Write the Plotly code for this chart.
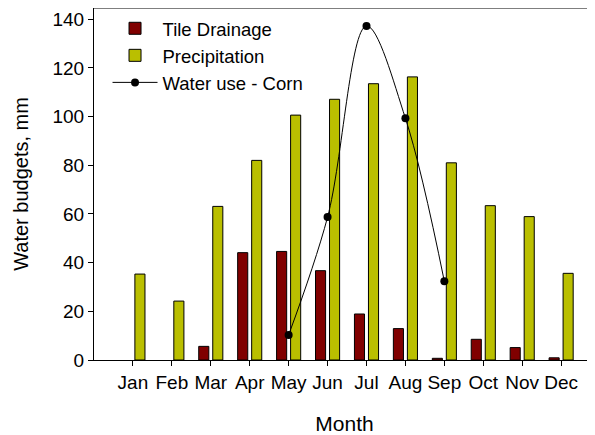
import plotly.graph_objects as go

months = ["Jan", "Feb", "Mar", "Apr", "May", "Jun", "Jul", "Aug", "Sep", "Oct", "Nov", "Dec"]
month_pos = [1, 2, 3, 4, 5, 6, 7, 8, 9, 10, 11, 12]
tile_drainage = [None, None, 5.6, 44.1, 44.6, 36.7, 18.9, 12.9, 0.7, 8.5, 5.1, 0.9]
precipitation = [35.3, 24.2, 63.1, 82.0, 100.6, 107.1, 113.5, 116.3, 81.0, 63.4, 58.9, 35.6]
water_pos = [5, 6, 7, 8, 9]
water_use = [10.3, 58.7, 137.2, 99.3, 32.3]
y_ticks = [0, 20, 40, 60, 80, 100, 120, 140]

fig = go.Figure()
fig.add_trace(go.Bar(x=month_pos, y=tile_drainage, name="Tile Drainage",
                     marker=dict(color="#800000", line=dict(color="black", width=1))))
fig.add_trace(go.Bar(x=month_pos, y=precipitation, name="Precipitation",
                     marker=dict(color="#BABF00", line=dict(color="black", width=1))))
fig.add_trace(go.Scatter(x=water_pos, y=water_use, name="Water use - Corn",
                         mode="lines+markers", line=dict(color="black", width=1, shape="spline", smoothing=1.0),
                         marker=dict(color="black", size=8)))

# page body has an 8px margin, so the figure is sized to fit the 595x435 window
fig.update_layout(
    width=587, height=427,
    margin=dict(l=86, r=0, t=0, b=75),
    paper_bgcolor="white", plot_bgcolor="white",
    font=dict(family="Liberation Sans, Arial, sans-serif", size=19, color="black"),
    barmode="group", bargap=0.28, bargroupgap=0.28,
    showlegend=True,
    legend=dict(x=0.027, y=0.995, xanchor="left", yanchor="top", bgcolor="rgba(0,0,0,0)",
                font=dict(size=18.5), tracegroupgap=0, itemwidth=45),
    xaxis=dict(range=[0, 12.87], tickvals=month_pos, ticktext=months, showline=True,
               linecolor="black", linewidth=1, ticks="outside", ticklen=5, tickcolor="black",
               showgrid=False, zeroline=False, automargin=False,
               title=dict(text="Month", font=dict(size=21), standoff=24)),
    yaxis=dict(range=[0, 144.6], tickvals=y_ticks, showline=True, linecolor="black", linewidth=1,
               ticks="outside", ticklen=5, tickcolor="black", showgrid=False, zeroline=False,
               automargin=False,
               title=dict(text="Water budgets, mm", font=dict(size=20), standoff=18)),
    shapes=[dict(type="line", xref="paper", yref="paper", x0=0, x1=1, y0=1, y1=1,
                 line=dict(color="black", width=1))],
)

fig.write_html("out.html")
